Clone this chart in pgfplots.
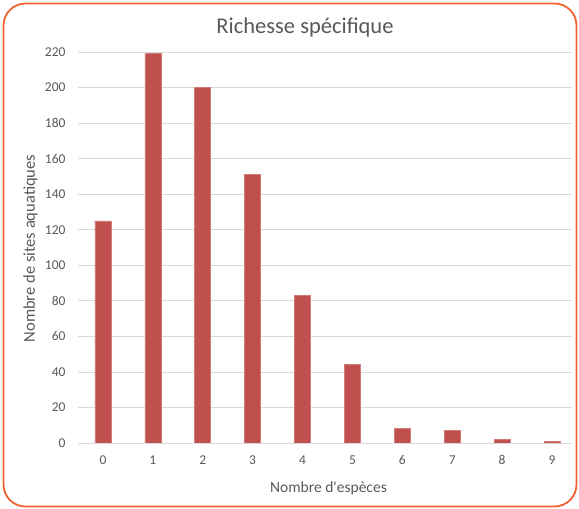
\documentclass[border=0pt]{standalone}
\usepackage{fontspec}
\setmainfont{Carlito}
\usepackage{pgfplots}
\pgfplotsset{compat=1.18}
\definecolor{barred}{RGB}{192,80,77}
\definecolor{gridgray}{RGB}{217,217,217}
\definecolor{txtgray}{RGB}{89,89,89}
\definecolor{frameorange}{RGB}{240,98,48}
\begin{document}
\begin{tikzpicture}[x=1pt,y=1pt]
\path[use as bounding box] (0,0) rectangle (579,509);
\draw[frameorange, line width=1.8pt, rounded corners=22pt] (3.5,2.5) rectangle (576.5,505.5);
\begin{axis}[
  at={(78pt,66pt)}, anchor=south west,
  width=494pt, height=391pt, scale only axis,
  xmin=-0.5, xmax=9.4, ymin=0, ymax=220,
  xtick={0,...,9}, ytick={0,20,...,220},
  ymajorgrids, grid style={color=gridgray, line width=0.8pt},
  axis line style={draw=none},
  major tick length=0pt,
  /pgf/number format/assume math mode=true,
  tick label style={font=\fontsize{13.5}{15}\selectfont, text=txtgray},
  yticklabel style={xshift=-9pt},
  xticklabel style={yshift=-9pt},
]
\addplot[ybar, bar width=16pt, fill=barred, draw=barred!75!white, line width=0.6pt]
  coordinates {(0,125) (1,219) (2,200) (3,151) (4,83) (5,44) (6,8) (7,7) (8,2) (9,1)};
\end{axis}
\node[font=\fontsize{22.5}{25}\selectfont, text=txtgray, anchor=base] at (305,475) {Richesse spécifique};
\node[font=\fontsize{15.5}{18}\selectfont, text=txtgray, anchor=base] at (328.5,16) {Nombre d\textquotesingle espèces};
\node[font=\fontsize{16.5}{18}\selectfont, text=txtgray, anchor=base, rotate=90] at (35,260.5) {Nombre de sites aquatiques};
\end{tikzpicture}
\end{document}
